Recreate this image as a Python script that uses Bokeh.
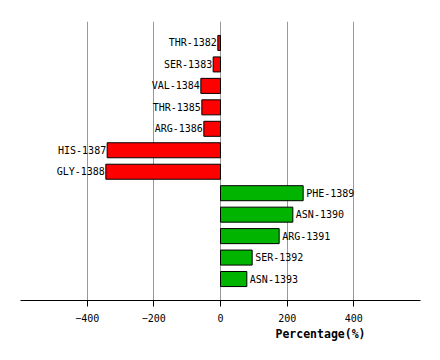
from bokeh.plotting import figure
from bokeh.models import Range1d, FixedTicker, Title, ColumnDataSource
from bokeh.core.properties import value
from bokeh.embed import file_html
from bokeh.resources import INLINE

residues = ["THR-1382", "SER-1383", "VAL-1384", "THR-1385", "ARG-1386", "HIS-1387",
            "GLY-1388", "PHE-1389", "ASN-1390", "ARG-1391", "SER-1392", "ASN-1393"]
percentages = [-8, -22, -59, -56, -50, -340, -344, 248, 217, 176, 95, 79]
tick_values = [-400, -200, 0, 200, 400]

n = len(residues)
ypos = [n - i for i in range(n)]
colors = ["#ff0000" if v < 0 else "#00b400" for v in percentages]

neg = dict(x=[], y=[], t=[])
pos = dict(x=[], y=[], t=[])
for r, v, y in zip(residues, percentages, ypos):
    d = neg if v < 0 else pos
    d["x"].append(v); d["y"].append(y); d["t"].append(r)

src = ColumnDataSource(dict(y=ypos, right=percentages, left=[0] * n, color=colors))

p = figure(width=432, height=352, output_backend="svg", toolbar_location=None,
           x_range=Range1d(-600, 600), y_range=Range1d(0, n + 1),
           min_border_left=20, min_border_right=12, min_border_top=21, min_border_bottom=52)
p.outline_line_color = None
p.background_fill_color = "white"
p.border_fill_color = "white"

p.hbar(y="y", left="left", right="right", height=0.7, fill_color="color",
       line_color="black", line_width=1, source=src)

font = value("DejaVu Sans Mono")
p.text(x=neg["x"], y=neg["y"], text=neg["t"], text_align="right", text_baseline="middle",
       x_offset=-1, text_font=font, text_font_size="10px", text_color="black")
p.text(x=pos["x"], y=pos["y"], text=pos["t"], text_align="left", text_baseline="middle",
       x_offset=3, text_font=font, text_font_size="10px", text_color="black")

p.yaxis.visible = False
p.ygrid.visible = False
p.xgrid.ticker = FixedTicker(ticks=tick_values)
p.xgrid.grid_line_color = "#999999"
p.xgrid.grid_line_width = 1

ax = p.xaxis[0]
ax.ticker = FixedTicker(ticks=tick_values)
ax.axis_line_color = "black"
ax.major_tick_line_color = "black"
ax.major_tick_in = 0
ax.major_tick_out = 6
ax.minor_tick_line_color = None
ax.major_label_standoff = 7
ax.major_label_text_font = "DejaVu Sans Mono"
ax.major_label_text_font_size = "10px"
ax.major_label_text_color = "black"

p.add_layout(Title(text="Percentage(%)", align="left", offset=255,
                   text_font="DejaVu Sans Mono", text_font_size="11.5px",
                   text_font_style="bold", text_color="black", standoff=1), "below")

open("out.html", "w").write(file_html(p, INLINE))
